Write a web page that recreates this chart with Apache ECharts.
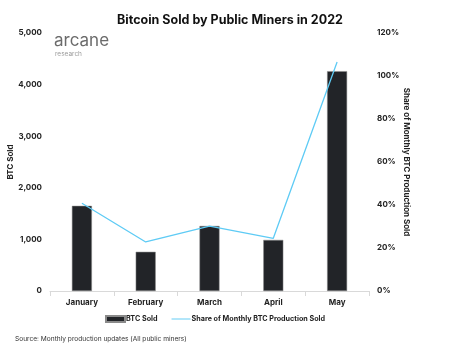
<!DOCTYPE html>
<html><head><meta charset="utf-8">
<script src="https://cdn.jsdelivr.net/npm/echarts@6/dist/echarts.min.js"></script>
<style>html,body{margin:0;padding:0;background:#fff}#c{width:460px;height:350px}</style>
</head><body><div id="c"></div>
<script>
const categories = ['January', 'February', 'March', 'April', 'May'];
const btcSold = [1650, 760, 1260, 990, 4260];
const shareSold = [40.8, 22.8, 30.2, 24.5, 106.5];
const leftTicks = [0, 1000, 2000, 3000, 4000, 5000];
const rightTicks = [0, 20, 40, 60, 80, 100, 120];

const chart = echarts.init(document.getElementById('c'), null, {renderer: 'canvas'});
const font = 'Inter, "Open Sans", sans-serif';
chart.setOption({
  animation: false,
  textStyle: {fontFamily: font},
  title: [{
    text: 'Bitcoin Sold by Public Miners in 2022',
    left: 'center', top: 9,
    textStyle: {fontSize: 12.5, fontWeight: 'bold', color: '#111', fontFamily: font}
  }, {
    text: 'arcane', left: 49, top: 27,
    textStyle: {fontSize: 17, fontWeight: 'normal', color: '#6b6b6b', fontFamily: font}
  }, {
    text: 'research', left: 50, top: 46,
    textStyle: {fontSize: 6.5, fontWeight: 'normal', color: '#9a9a9a', fontFamily: font}
  }, {
    text: 'Source: Monthly production updates (All public miners)', left: 10, top: 331,
    textStyle: {fontSize: 6.6, fontWeight: 'normal', color: '#333', fontFamily: font}
  }],
  legend: {
    bottom: 22, left: 100,
    itemGap: 14, itemWidth: 19, itemHeight: 6,
    textStyle: {fontSize: 7.2, fontWeight: 'bold', color: '#222', fontFamily: font, padding: [0,0,0,-4]},
    data: [{name: 'BTC Sold', icon: 'rect'}, {name: 'Share of Monthly BTC Production Sold', icon: 'path://M0,0L20,0L20,1L0,1Z'}]
  },
  grid: {left: 50, right: 91, top: 33, bottom: 59, containLabel: false, outerBoundsMode: 'none'},
  xAxis: {
    type: 'category', data: categories,
    axisLine: {lineStyle: {color: '#d9d9d9'}},
    axisTick: {show: true, lineStyle: {color: '#d9d9d9'}},
    axisLabel: {fontSize: 8, fontWeight: 'bold', color: '#222', margin: 8}
  },
  yAxis: [{
    type: 'value', min: 0, max: 5000, interval: 1000,
    name: 'BTC Sold', nameLocation: 'middle', nameGap: 35, nameRotate: 90, nameMoveOverlap: false,
    nameTextStyle: {fontSize: 8, fontWeight: 'bold', color: '#222'},
    axisLine: {show: false}, axisTick: {show: false}, splitLine: {show: false},
    axisLabel: {fontSize: 8, fontWeight: 'bold', color: '#222', margin: 8,
      formatter: v => leftTicks.includes(v) ? v.toLocaleString('en-US') : ''}
  }, {
    type: 'value', min: 0, max: 120, interval: 20,
    name: 'Share of Monthly BTC Production Sold', nameLocation: 'middle', nameGap: 33, nameRotate: -90, nameMoveOverlap: false,
    nameTextStyle: {fontSize: 8, fontWeight: 'bold', color: '#222'},
    axisLine: {show: false}, axisTick: {show: false}, splitLine: {show: false},
    axisLabel: {fontSize: 8, fontWeight: 'bold', color: '#222', margin: 8,
      formatter: v => rightTicks.includes(v) ? v + '%' : ''}
  }],
  series: [{
    name: 'BTC Sold', type: 'bar', data: btcSold, barWidth: 20,
    itemStyle: {color: '#222428', borderColor: '#8a8a8a', borderWidth: 0.5}
  }, {
    name: 'Share of Monthly BTC Production Sold', type: 'line', yAxisIndex: 1, data: shareSold,
    symbol: 'none', lineStyle: {color: '#5ecbf5', width: 1.3}, itemStyle: {color: '#5ecbf5'}
  }]
});
</script></body></html>
